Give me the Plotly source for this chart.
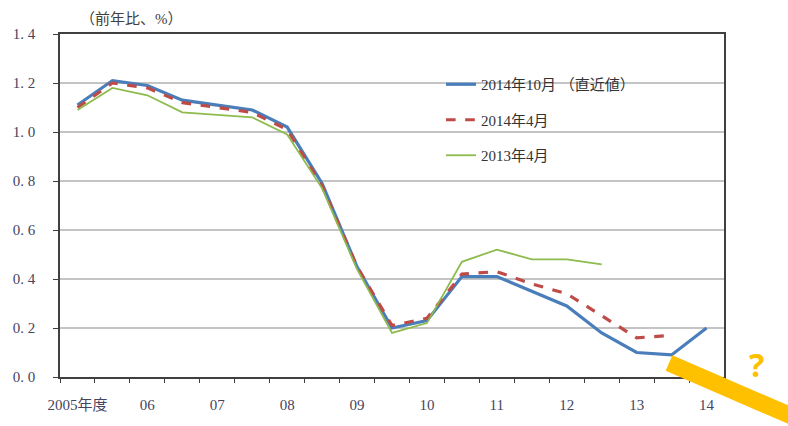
import plotly.graph_objects as go

# Half-year periods, FY2005 H1 .. FY2014 H1
periods = ["05H1", "05H2", "06H1", "06H2", "07H1", "07H2", "08H1", "08H2",
           "09H1", "09H2", "10H1", "10H2", "11H1", "11H2", "12H1", "12H2",
           "13H1", "13H2", "14H1"]
year_labels = ["2005年度", "06", "07", "08", "09", "10", "11", "12", "13", "14"]

est_2014_oct = [1.11, 1.21, 1.19, 1.13, 1.11, 1.09, 1.02, 0.79, 0.45, 0.20,
                0.23, 0.41, 0.41, 0.35, 0.29, 0.18, 0.10, 0.09, 0.20]
est_2014_apr = [1.10, 1.20, 1.18, 1.12, 1.10, 1.08, 1.01, 0.78, 0.45, 0.21,
                0.24, 0.42, 0.43, 0.38, 0.34, 0.25, 0.16, 0.17, None]
est_2013_apr = [1.09, 1.18, 1.15, 1.08, 1.07, 1.06, 0.99, 0.77, 0.44, 0.18,
                0.22, 0.47, 0.52, 0.48, 0.48, 0.46, None, None, None]

y_ticks = [0.0, 0.2, 0.4, 0.6, 0.8, 1.0, 1.2, 1.4]
y_ticktext = ["0. 0", "0. 2", "0. 4", "0. 6", "0. 8", "1. 0", "1. 2", "1. 4"]

serif = "Liberation Serif, Noto Sans CJK JP, serif"
x_idx = list(range(len(periods)))

fig = go.Figure()
fig.add_trace(go.Scatter(x=x_idx, y=est_2014_oct, mode="lines",
                         name="2014年10月 （直近値）", legendgroup="a",
                         line=dict(color="#4A7EBB", width=3.2)))
fig.add_trace(go.Scatter(x=x_idx, y=est_2014_apr, mode="lines",
                         name="2014年4月", legendgroup="b",
                         line=dict(color="#BE4B48", width=3.2, dash="dash")))
fig.add_trace(go.Scatter(x=x_idx, y=est_2013_apr, mode="lines",
                         name="2013年4月", legendgroup="c",
                         line=dict(color="#8DBB4C", width=1.8)))

# white box behind legend hides the gridlines there
fig.add_shape(type="rect", xref="paper", yref="paper",
              x0=(408 - 60) / 664, x1=(678 - 60) / 664,
              y0=(377 - 172) / 343, y1=(377 - 62) / 343,
              fillcolor="white", line=dict(width=0), layer="between")

# highlighter stroke and question mark at bottom right
fig.add_shape(type="line", xref="paper", yref="paper",
              x0=(669 - 60) / 664, y0=(377 - 363) / 343,
              x1=(812 - 60) / 664, y1=(377 - 425) / 343,
              line=dict(color="#FFC000", width=17))
fig.add_annotation(text="<b>?</b>", xref="paper", yref="paper",
                   x=(756 - 60) / 664, y=(377 - 364) / 343,
                   showarrow=False, xanchor="center", yanchor="middle",
                   font=dict(family="Noto Sans, sans-serif", size=32, color="#FFC000"))

fig.add_annotation(text="（前年比、%）", xref="paper", yref="paper",
                   x=(78 - 60) / 664, y=(377 - 19) / 343,
                   showarrow=False, xanchor="left", yanchor="middle",
                   font=dict(family=serif, size=15, color="#404040"))

fig.update_layout(
    width=788, height=426,
    margin=dict(l=60, r=64, t=34, b=49),
    paper_bgcolor="white", plot_bgcolor="white",
    showlegend=True,
    legend=dict(x=(441 - 60) / 664, y=(377 - 68) / 343,
                xanchor="left", yanchor="top",
                bgcolor="rgba(0,0,0,0)", tracegroupgap=13,
                font=dict(family=serif, size=15, color="#333333")),
    xaxis=dict(range=[-0.5, len(periods) - 0.5],
               tickmode="array", tickvals=x_idx[::2], ticktext=year_labels,
               ticks="", ticklabelstandoff=13,
               showgrid=False, zeroline=False,
               showline=True, linecolor="#404040", linewidth=1.5, mirror=True,
               tickfont=dict(family=serif, size=15, color="#45455f"),
               minor=dict(ticks="outside", ticklen=4, tickcolor="#404040",
                          tickmode="linear", tick0=-0.5, dtick=1, showgrid=False)),
    yaxis=dict(range=[0, 1.4], tickmode="array", tickvals=y_ticks, ticktext=y_ticktext,
               ticks="outside", ticklen=5, tickcolor="#404040",
               ticklabelstandoff=15,
               showgrid=True, gridcolor="#C4C4C4", gridwidth=1.6,
               zeroline=False,
               showline=True, linecolor="#404040", linewidth=1.5, mirror=True,
               tickfont=dict(family=serif, size=15, color="#45455f")),
)

fig.write_html("out.html")
